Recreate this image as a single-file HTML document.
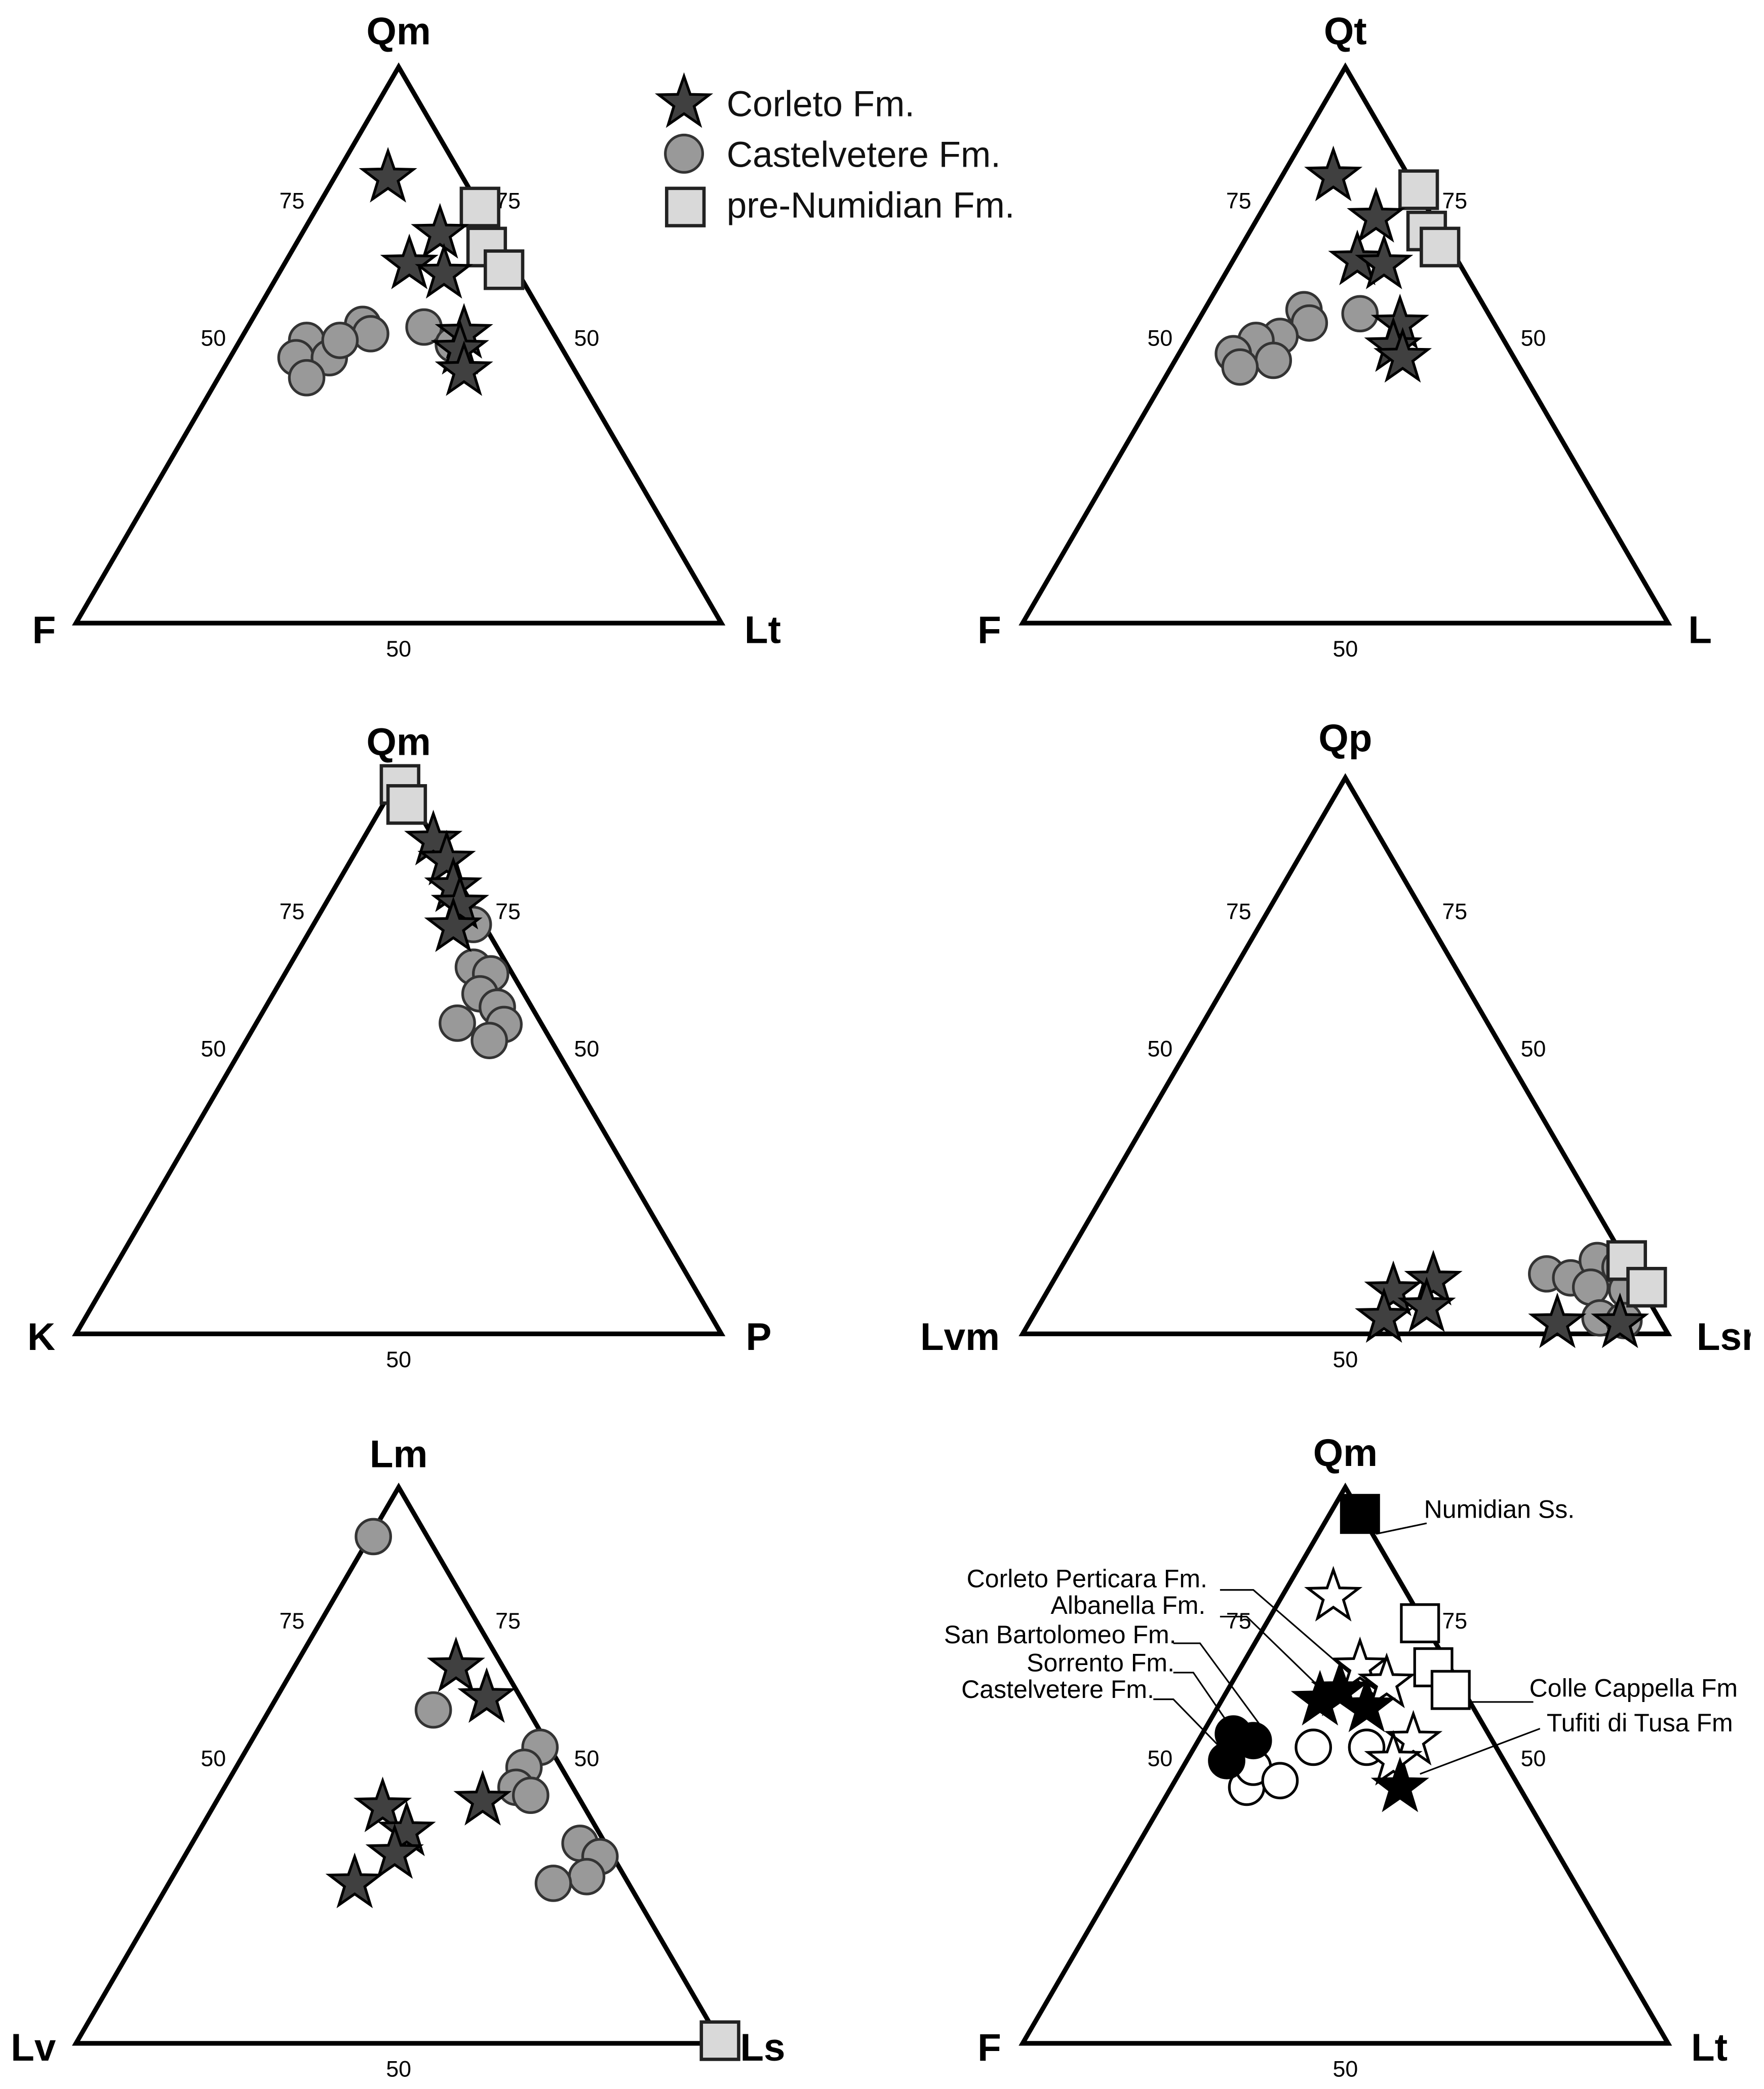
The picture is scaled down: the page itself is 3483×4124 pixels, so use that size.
<!DOCTYPE html>
<html><head><meta charset="utf-8"><style>html,body{margin:0;padding:0;background:#fff}svg{display:block}</style></head>
<body>
<svg width="3483" height="4124" viewBox="0 0 1323 1566" xmlns="http://www.w3.org/2000/svg" font-family="Liberation Sans, sans-serif">
<defs>
<polygon id="st" points="0,-20 4.7,-6.5 19,-6.2 7.6,2.5 11.8,16.2 0,8 -11.8,16.2 -7.6,2.5 -19,-6.2 -4.7,-6.5"/>
<g id="tri">
<polygon points="0,0 -242,417 242,417" fill="none" stroke="#000" stroke-width="3.5"/>
<text x="-80" y="106" font-size="17" text-anchor="middle">75</text>
<text x="-139" y="209" font-size="17" text-anchor="middle">50</text>
<text x="82" y="106" font-size="17" text-anchor="middle">75</text>
<text x="141" y="209" font-size="17" text-anchor="middle">50</text>
<text x="0" y="442" font-size="17" text-anchor="middle">50</text>
</g>
</defs>
<g font-weight="bold" font-size="29" text-anchor="middle">
<text x="299" y="33">Qm</text><text x="33" y="482">F</text><text x="572" y="482">Lt</text>
<text x="1009" y="33">Qt</text><text x="742" y="482">F</text><text x="1275" y="482">L</text>
<text x="299" y="566">Qm</text><text x="31" y="1012">K</text><text x="569" y="1012">P</text>
<text x="1009" y="563">Qp</text><text x="720" y="1012">Lvm</text><text x="1295" y="1012">Lsr</text>
<text x="299" y="1100">Lm</text><text x="25" y="1545">Lv</text><text x="572" y="1545">Ls</text>
<text x="1009" y="1099">Qm</text><text x="742" y="1545">F</text><text x="1282" y="1545">Lt</text>
</g>
<use href="#tri" x="299" y="50"/><use href="#tri" x="1009" y="50"/>
<use href="#tri" x="299" y="583"/><use href="#tri" x="1009" y="583"/>
<use href="#tri" x="299" y="1115"/><use href="#tri" x="1009" y="1115"/>
<use href="#st" x="513" y="77" fill="#404040" stroke="#000" stroke-width="2"/>
<circle cx="513" cy="115" r="14" fill="#999" stroke="#333" stroke-width="2"/>
<rect x="500" y="141" width="28" height="28" fill="#d9d9d9" stroke="#222" stroke-width="2.5"/>
<g font-size="27" fill="#111"><text x="545" y="87">Corleto Fm.</text><text x="545" y="125">Castelvetere Fm.</text><text x="545" y="163">pre-Numidian Fm.</text></g>
<g fill="#999" stroke="#333" stroke-width="2">
<circle cx="230" cy="255" r="13"/><circle cx="222" cy="268" r="13"/><circle cx="247" cy="268" r="13"/><circle cx="230" cy="283" r="13"/><circle cx="272" cy="243" r="13"/><circle cx="278" cy="250" r="13"/><circle cx="255" cy="255" r="13"/><circle cx="318" cy="245" r="13"/><circle cx="340" cy="258" r="13"/>
<circle cx="978" cy="232" r="13"/><circle cx="982" cy="242" r="13"/><circle cx="960" cy="252" r="13"/><circle cx="942" cy="255" r="13"/><circle cx="925" cy="265" r="13"/><circle cx="955" cy="270" r="13"/><circle cx="930" cy="275" r="13"/><circle cx="1020" cy="235" r="13"/>
<circle cx="355" cy="693" r="13"/><circle cx="355" cy="725" r="13"/><circle cx="368" cy="730" r="13"/><circle cx="360" cy="745" r="13"/><circle cx="373" cy="755" r="13"/><circle cx="378" cy="768" r="13"/><circle cx="367" cy="780" r="13"/><circle cx="343" cy="767" r="13"/>
<circle cx="1160" cy="955" r="13"/><circle cx="1178" cy="958" r="13"/><circle cx="1198" cy="945" r="13"/><circle cx="1215" cy="950" r="13"/><circle cx="1193" cy="965" r="13"/><circle cx="1220" cy="967" r="13"/><circle cx="1200" cy="988" r="13"/><circle cx="1218" cy="990" r="13"/>
<circle cx="280" cy="1152" r="13"/><circle cx="325" cy="1282" r="13"/><circle cx="405" cy="1310" r="13"/><circle cx="393" cy="1325" r="13"/><circle cx="387" cy="1340" r="13"/><circle cx="398" cy="1346" r="13"/><circle cx="435" cy="1382" r="13"/><circle cx="450" cy="1392" r="13"/><circle cx="440" cy="1407" r="13"/><circle cx="415" cy="1412" r="13"/>
</g>
<g fill="#d9d9d9" stroke="#222" stroke-width="2.5">
<rect x="346" y="141" width="28" height="28"/><rect x="351" y="171" width="28" height="28"/><rect x="364" y="188" width="28" height="28"/>
<rect x="1050" y="128" width="28" height="28"/><rect x="1056" y="159" width="28" height="28"/><rect x="1066" y="171" width="28" height="28"/>
<rect x="286" y="574" width="28" height="28"/><rect x="291" y="589" width="28" height="28"/>
<rect x="1206" y="931" width="28" height="28"/><rect x="1221" y="951" width="28" height="28"/>
<rect x="526" y="1516" width="28" height="28"/>
</g>
<g fill="#404040" stroke="#000" stroke-width="2">
<use href="#st" x="291" y="133"/><use href="#st" x="330" y="175"/><use href="#st" x="307" y="198"/><use href="#st" x="333" y="205"/><use href="#st" x="348" y="250"/><use href="#st" x="345" y="262"/><use href="#st" x="348" y="278"/>
<use href="#st" x="1000" y="132"/><use href="#st" x="1032" y="163"/><use href="#st" x="1018" y="195"/><use href="#st" x="1038" y="198"/><use href="#st" x="1050" y="243"/><use href="#st" x="1045" y="260"/><use href="#st" x="1052" y="268"/>
<use href="#st" x="325" y="630"/><use href="#st" x="335" y="645"/><use href="#st" x="340" y="665"/><use href="#st" x="345" y="678"/><use href="#st" x="340" y="695"/>
<use href="#st" x="1045" y="968"/><use href="#st" x="1075" y="960"/><use href="#st" x="1070" y="980"/><use href="#st" x="1038" y="988"/><use href="#st" x="1168" y="992"/><use href="#st" x="1215" y="992"/>
<use href="#st" x="342" y="1250"/><use href="#st" x="365" y="1273"/><use href="#st" x="362" y="1350"/><use href="#st" x="287" y="1355"/><use href="#st" x="305" y="1373"/><use href="#st" x="296" y="1390"/><use href="#st" x="266" y="1412"/>
</g>
<g stroke="#000" stroke-width="1.2" fill="none">
<polyline points="1032,1150 1070,1142"/>
<polyline points="915,1192 940,1192 1030,1270"/>
<polyline points="915,1212 935,1212 1000,1275"/>
<polyline points="880,1232 900,1232 950,1300"/>
<polyline points="880,1254 895,1254 930,1305"/>
<polyline points="865,1274 880,1274 920,1315"/>
<polyline points="1100,1276 1150,1276"/>
<polyline points="1065,1330 1155,1296"/>
</g>
<g stroke="#000" stroke-width="2">
<g fill="#fff"><circle cx="935" cy="1340" r="13"/><circle cx="940" cy="1325" r="13"/><circle cx="960" cy="1335" r="13"/><circle cx="985" cy="1310" r="13"/><circle cx="1025" cy="1310" r="13"/></g>
<g fill="#000"><circle cx="925" cy="1300" r="13"/><circle cx="940" cy="1305" r="13"/><circle cx="920" cy="1320" r="13"/></g>
<g fill="#fff"><use href="#st" x="1000" y="1197"/><use href="#st" x="1020" y="1250"/><use href="#st" x="1040" y="1262"/><use href="#st" x="1060" y="1305"/><use href="#st" x="1045" y="1320"/></g>
<g fill="#000"><use href="#st" x="990" y="1275"/><use href="#st" x="1025" y="1280"/><use href="#st" x="1005" y="1268"/><use href="#st" x="1050" y="1340"/></g>
<rect x="1006" y="1121" width="28" height="28" fill="#000"/>
<g fill="#fff"><rect x="1051" y="1203" width="28" height="28"/><rect x="1061" y="1236" width="28" height="28"/><rect x="1074" y="1253" width="28" height="28"/></g>
</g>
<g font-size="19" fill="#000">
<text x="1068" y="1138">Numidian Ss.</text>
<text x="725" y="1190">Corleto Perticara Fm.</text>
<text x="788" y="1210">Albanella Fm.</text>
<text x="708" y="1232">San Bartolomeo Fm.</text>
<text x="770" y="1253">Sorrento Fm.</text>
<text x="721" y="1273">Castelvetere Fm.</text>
<text x="1147" y="1272">Colle Cappella Fm</text>
<text x="1160" y="1298">Tufiti di Tusa Fm</text>
</g>
<rect x="1313" y="0" width="10" height="1566" fill="#fff"/>
</svg>
</body></html>
